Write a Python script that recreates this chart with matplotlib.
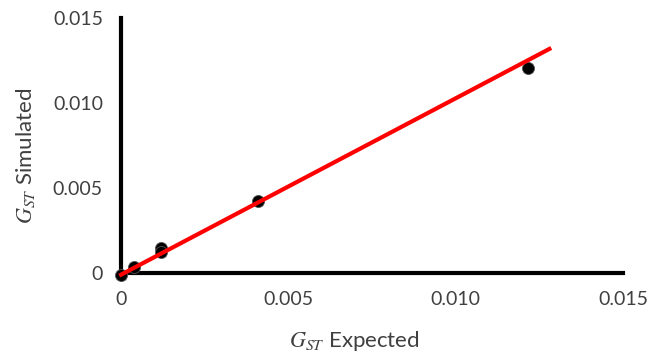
import matplotlib.pyplot as plt

# expected vs simulated G_ST values
expected = [0.0, 0.00039, 0.0012, 0.0012, 0.0041, 0.01217]
simulated = [-0.0001, 0.00035, 0.00147, 0.00124, 0.00424, 0.01206]

# fitted line end points
fit_x = [0.0, 0.0128]
fit_y = [-0.0001, 0.01318]

xticks = [0, 0.005, 0.010, 0.015]
xtick_labels = ["0", "0.005", "0.010", "0.015"]
yticks = [0, 0.005, 0.010, 0.015]
ytick_labels = ["0", "0.005", "0.010", "0.015"]

if __name__ == "__main__":
    plt.rcParams["font.family"] = ["Lato", "DejaVu Sans"]
    plt.rcParams["mathtext.fontset"] = "stix"

    fig = plt.figure(figsize=(6.62, 3.58), dpi=100)
    ax = fig.add_axes([121 / 662, 85 / 358, 502 / 662, 255 / 358])

    ax.scatter(expected, simulated, s=75, color="black", edgecolor="#555555",
               linewidth=0.6, zorder=3, clip_on=False)
    ax.plot(fit_x, fit_y, color="red", linewidth=3, zorder=4, clip_on=False)

    ax.set_xlim(0, 0.015)
    ax.set_ylim(0, 0.015)
    ax.set_xticks(xticks, xtick_labels)
    ax.set_yticks(yticks, ytick_labels)
    ax.tick_params(length=0, labelsize=14, colors="#404040")
    ax.tick_params(axis="y", pad=13)
    ax.tick_params(axis="x", pad=13)

    for side in ["top", "right"]:
        ax.spines[side].set_visible(False)
    for side in ["left", "bottom"]:
        ax.spines[side].set_linewidth(3)
        ax.spines[side].set_color("black")
        ax.spines[side].set_zorder(2)

    ax.set_xlabel(r"$G_{ST}$ Expected", fontsize=16, color="#404040")
    ax.set_ylabel(r"$G_{ST}$ Simulated", fontsize=16, color="#404040")
    ax.xaxis.set_label_coords(0.464, -0.22)
    ax.yaxis.set_label_coords(-0.167, 0.46)

    plt.savefig("out.png", dpi=100)
